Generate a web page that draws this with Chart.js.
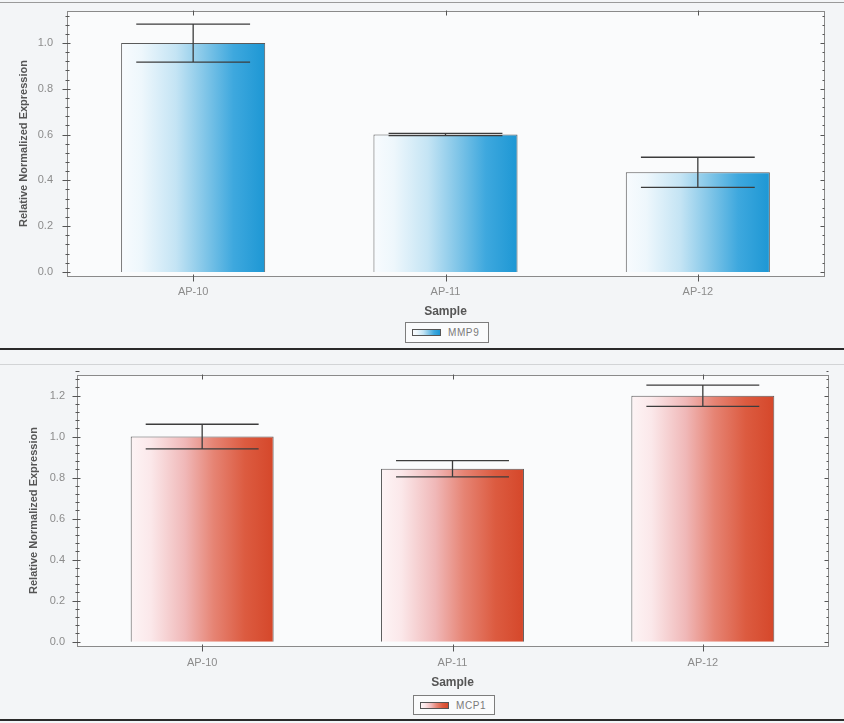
<!DOCTYPE html>
<html>
<head>
<meta charset="utf-8">
<script src="https://cdn.jsdelivr.net/npm/chart.js@4.4.1/dist/chart.umd.min.js"></script>
<style>
  html, body { margin: 0; padding: 0; }
  body {
    width: 844px; height: 723px; position: relative; overflow: hidden;
    background: #f3f5f7; font-family: "Liberation Sans", Arial, sans-serif;
  }
  .rule { position: absolute; left: 0; width: 844px; }
  .panel { position: absolute; left: 0; width: 844px; }
  .legend {
    position: absolute; box-sizing: border-box; border: 1px solid #7d7d7d;
    background: #fafbfc; display: flex; align-items: center;
    font-size: 10px; color: #7a7a7a; letter-spacing: 0.6px;
  }
  .legend .swatch {
    display: inline-block; width: 27px; height: 5px; border: 1px solid #555;
    margin: 0 7px 0 6px;
  }
</style>
</head>
<body>
<div class="rule" style="top:2px;height:1px;background:#9a9a9a"></div>
<div class="rule" style="top:348px;height:2px;background:#2a2a2a"></div>
<div class="rule" style="top:364px;height:1px;background:#d2d4d6"></div>
<div class="rule" style="top:719px;height:2px;background:#2a2a2a"></div>

<div class="panel" style="top:0;height:320px"><canvas id="mmp9Chart" width="844" height="320"></canvas></div>
<div class="legend" style="left:405px;top:322px;width:84px;height:21px">
  <span class="swatch" id="mmp9Swatch"></span><span>MMP9</span>
</div>

<div class="panel" style="top:350px;height:342px"><canvas id="mcp1Chart" width="844" height="342"></canvas></div>
<div class="legend" style="left:413px;top:695px;width:82px;height:20px">
  <span class="swatch" id="mcp1Swatch"></span><span>MCP1</span>
</div>

<script>
// Samples on the x axis
const samples = ['AP-10', 'AP-11', 'AP-12'];

// MMP9 relative normalized expression and its error (± half-range)
const mmp9Values = [1.0, 0.60, 0.435];
const mmp9Errors = [0.083, 0.005, 0.066];

// MCP1 relative normalized expression and its error
const mcp1Values = [1.0, 0.843, 1.199];
const mcp1Errors = [0.06, 0.04, 0.052];

// Labelled y ticks for each panel
const mmp9YTicks = [0.0, 0.2, 0.4, 0.6, 0.8, 1.0];
const mcp1YTicks = [0.0, 0.2, 0.4, 0.6, 0.8, 1.0, 1.2];

const BAR_FRACTION = 0.571;
const FONT = '"Liberation Sans", Arial, sans-serif';

const blueStops = [[0, '#f8fbfe'], [0.14, '#eef7fc'], [0.38, '#c4e4f4'], [0.58, '#82c6e8'], [0.78, '#3ea8de'], [1, '#1d97d4']];
const redStops  = [[0, '#fdf4f5'], [0.14, '#fbe8ea'], [0.38, '#f0b8b8'], [0.58, '#e68474'], [0.8, '#dc5b40'], [1, '#d5472a']];

function cssGradient(stops) {
  return 'linear-gradient(to right,' + stops.map(([o, c]) => c + ' ' + (o * 100) + '%').join(',') + ')';
}
document.getElementById('mmp9Swatch').style.background = cssGradient(blueStops);
document.getElementById('mcp1Swatch').style.background = cssGradient(redStops);

// Horizontal white-to-colour fill across each bar, positioned from the category scale
function barGradient(stops) {
  return (ctx) => {
    const chart = ctx.chart;
    const xs = chart.scales.x;
    if (!chart.chartArea || !xs || ctx.type !== 'data') return stops[stops.length - 1][1];
    const cx = xs.getPixelForValue(ctx.dataIndex);
    const half = xs.width / samples.length * BAR_FRACTION / 2;
    const g = chart.ctx.createLinearGradient(cx - half, 0, cx + half, 0);
    stops.forEach(([o, c]) => g.addColorStop(o, c));
    return g;
  };
}

// Plot background, frame and tick marks on all four sides
const framePlugin = {
  id: 'frame',
  beforeDatasetsDraw(chart, args, opts) {
    const { ctx, chartArea: a, scales: { x, y } } = chart;
    ctx.save();
    ctx.fillStyle = '#fafbfc';
    ctx.fillRect(a.left, a.top, a.right - a.left, a.bottom - a.top);
    ctx.strokeStyle = '#8a8a8a';
    ctx.lineWidth = 1;
    ctx.strokeRect(Math.round(a.left) + 0.5, Math.round(a.top) + 0.5,
                   Math.round(a.right - a.left), Math.round(a.bottom - a.top));
    ctx.strokeStyle = '#555';
    ctx.beginPath();
    const L = Math.round(a.left) + 0.5, R = Math.round(a.right) + 0.5;
    for (let k = 0; k <= Math.round(opts.max / 0.04); k++) {
      const v = k * 0.04;
      const major = k % 5 === 0;
      const py = Math.round(y.getPixelForValue(v)) + 0.5;
      ctx.moveTo(L - (major ? 5 : 2), py); ctx.lineTo(L + (major ? 3 : 2), py);
      ctx.moveTo(R - (major ? 4 : 2), py); ctx.lineTo(R, py);
    }
    const T = Math.round(a.top) + 0.5, B = Math.round(a.bottom) + 0.5;
    samples.forEach((s, i) => {
      const px = Math.round(x.getPixelForValue(i)) + 0.5;
      ctx.moveTo(px, B - 2); ctx.lineTo(px, B + 5);
      ctx.moveTo(px, T - 1); ctx.lineTo(px, T + 4);
    });
    ctx.stroke();
    ctx.restore();
  }
};

// Error bars: vertical stem with caps, from value ± error on the y scale
const errorBarPlugin = {
  id: 'errorBars',
  afterDatasetsDraw(chart, args, opts) {
    const { ctx, scales: { y } } = chart;
    const meta = chart.getDatasetMeta(0);
    ctx.save();
    ctx.strokeStyle = '#3c3c3c';
    ctx.lineWidth = 1.3;
    meta.data.forEach((bar, i) => {
      const v = chart.data.datasets[0].data[i];
      const e = opts.errors[i];
      const yHi = y.getPixelForValue(v + e);
      const yLo = y.getPixelForValue(v - e);
      const cap = bar.width * 0.395;
      ctx.beginPath();
      ctx.moveTo(bar.x, yHi); ctx.lineTo(bar.x, yLo);
      ctx.moveTo(bar.x - cap, yHi); ctx.lineTo(bar.x + cap, yHi);
      ctx.moveTo(bar.x - cap, yLo); ctx.lineTo(bar.x + cap, yLo);
      ctx.stroke();
    });
    ctx.restore();
  }
};

function makeChart(id, cfg) {
  return new Chart(document.getElementById(id), {
    type: 'bar',
    data: {
      labels: samples,
      datasets: [{
        label: cfg.label,
        data: cfg.values,
        backgroundColor: barGradient(cfg.stops),
        borderColor: '#5a5a5a',
        borderWidth: 1,
        barPercentage: BAR_FRACTION,
        categoryPercentage: 1
      }]
    },
    options: {
      responsive: false,
      animation: false,
      devicePixelRatio: 1,
      layout: { padding: cfg.padding },
      plugins: {
        legend: { display: false },
        tooltip: { enabled: false },
        frame: { max: cfg.max },
        errorBars: { errors: cfg.errors }
      },
      scales: {
        x: {
          grid: { display: false, drawTicks: false },
          border: { display: false },
          ticks: { padding: cfg.xLabelPad, color: '#8c8c8c', font: { family: FONT, size: 11 } },
          title: {
            display: true, text: 'Sample', color: '#555',
            font: { family: FONT, size: 12, weight: 'bold' },
            padding: { top: 0, bottom: cfg.titleBottom }
          },
          afterFit: (s) => { s.height = cfg.xHeight; s.paddingLeft = 0; s.paddingRight = 0; }
        },
        y: {
          min: cfg.min, max: cfg.max,
          afterBuildTicks: (s) => { s.ticks = cfg.yTicks.map(v => ({ value: v })); },
          grid: { display: false, drawTicks: false },
          border: { display: false },
          ticks: {
            padding: cfg.yLabelPad, color: '#8c8c8c',
            font: { family: FONT, size: 11 },
            callback: (v) => Number(v).toFixed(1)
          },
          title: {
            display: true, text: 'Relative Normalized Expression', color: '#555',
            font: { family: FONT, size: 11, weight: 'bold' },
            padding: { top: cfg.yTitlePad, bottom: 0 }
          },
          afterFit: (s) => { s.width = cfg.yWidth; s.paddingTop = 0; s.paddingBottom = 0; }
        }
      }
    },
    plugins: [framePlugin, errorBarPlugin]
  });
}

makeChart('mmp9Chart', {
  label: 'MMP9', values: mmp9Values, errors: mmp9Errors, stops: blueStops,
  yTicks: mmp9YTicks, min: -0.018, max: 1.14,
  padding: { top: 11, right: 20, left: 0, bottom: 0 },
  xHeight: 44, xLabelPad: 9, titleBottom: 1,
  yWidth: 67, yLabelPad: 14, yTitlePad: 17
});

makeChart('mcp1Chart', {
  label: 'MCP1', values: mcp1Values, errors: mcp1Errors, stops: redStops,
  yTicks: mcp1YTicks, min: -0.021, max: 1.30,
  padding: { top: 25, right: 16, left: 0, bottom: 0 },
  xHeight: 46, xLabelPad: 10, titleBottom: 2,
  yWidth: 77, yLabelPad: 12, yTitlePad: 27
});
</script>
</body>
</html>
